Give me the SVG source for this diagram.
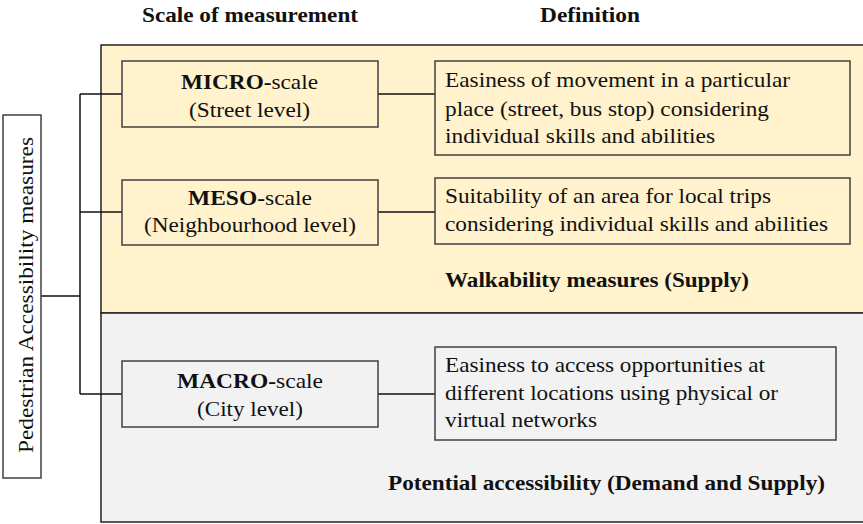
<svg xmlns="http://www.w3.org/2000/svg" width="863" height="524" viewBox="0 0 863 524">
  <style>
    text { font-family: "Liberation Serif", "Times New Roman", serif; fill: #111; font-size: 22px; }
    .b { font-weight: bold; }
    .panel { stroke: #222; stroke-width: 1.5; }
    .box { stroke: #404040; stroke-width: 1.5; }
    .yel { fill: #FFF2CC; }
    .gry { fill: #F2F2F2; }
    .wire { stroke: #111; stroke-width: 1.5; fill: none; }
  </style>

  <!-- column headings -->
  <g id="headings">
    <text class="b" x="142" y="22" textLength="216" lengthAdjust="spacingAndGlyphs">Scale of measurement</text>
    <text class="b" x="540" y="22" textLength="100" lengthAdjust="spacingAndGlyphs">Definition</text>
  </g>

  <!-- background bands -->
  <g id="walkability-panel">
    <rect class="panel yel" x="101" y="45" width="775" height="268"/>
    <text class="b" x="445" y="287" textLength="304" lengthAdjust="spacingAndGlyphs">Walkability measures (Supply)</text>
  </g>
  <g id="accessibility-panel">
    <rect class="panel gry" x="101" y="313" width="775" height="209"/>
    <text class="b" x="388" y="490" textLength="437" lengthAdjust="spacingAndGlyphs">Potential accessibility (Demand and Supply)</text>
  </g>

  <!-- connectors -->
  <g id="connectors">
    <path class="wire" d="M80,94 V394"/>
    <path class="wire" d="M41,296 H80"/>
    <path class="wire" d="M80,94 H122 M80,212 H122 M80,394 H122"/>
    <path class="wire" d="M378,94 H435 M378,212 H435 M378,394 H435"/>
  </g>

  <!-- root -->
  <g id="pedestrian-accessibility">
    <rect class="box" x="3" y="115" width="38" height="363" fill="#fff"/>
    <text x="0" y="0" transform="translate(33,453) rotate(-90)" textLength="316" lengthAdjust="spacingAndGlyphs">Pedestrian Accessibility measures</text>
  </g>

  <!-- scale nodes -->
  <g id="micro">
    <rect class="box yel" x="122" y="61" width="256" height="66"/>
    <text x="181" y="89" textLength="137" lengthAdjust="spacingAndGlyphs"><tspan class="b">MICRO-</tspan>scale</text>
    <text x="189" y="117" textLength="121" lengthAdjust="spacingAndGlyphs">(Street level)</text>
  </g>
  <g id="meso">
    <rect class="box yel" x="122" y="180" width="256" height="65"/>
    <text x="188" y="205" textLength="124" lengthAdjust="spacingAndGlyphs"><tspan class="b">MESO-</tspan>scale</text>
    <text x="144" y="232" textLength="212" lengthAdjust="spacingAndGlyphs">(Neighbourhood level)</text>
  </g>
  <g id="macro">
    <rect class="box gry" x="122" y="361" width="256" height="66"/>
    <text x="177" y="388" textLength="146" lengthAdjust="spacingAndGlyphs"><tspan class="b">MACRO-</tspan>scale</text>
    <text x="197" y="416" textLength="106" lengthAdjust="spacingAndGlyphs">(City level)</text>
  </g>

  <!-- definition nodes -->
  <g id="micro-definition">
    <rect class="box yel" x="435" y="61" width="415" height="94"/>
    <text x="445" y="87" textLength="345" lengthAdjust="spacingAndGlyphs">Easiness of movement in a particular</text>
    <text x="445" y="116" textLength="324" lengthAdjust="spacingAndGlyphs">place (street, bus stop) considering</text>
    <text x="445" y="143" textLength="270" lengthAdjust="spacingAndGlyphs">individual skills and abilities</text>
  </g>
  <g id="meso-definition">
    <rect class="box yel" x="435" y="178" width="415" height="66"/>
    <text x="445" y="203" textLength="326" lengthAdjust="spacingAndGlyphs">Suitability of an area for local trips</text>
    <text x="445" y="231" textLength="383" lengthAdjust="spacingAndGlyphs">considering individual skills and abilities</text>
  </g>
  <g id="macro-definition">
    <rect class="box gry" x="435" y="347" width="401" height="93"/>
    <text x="445" y="372" textLength="320" lengthAdjust="spacingAndGlyphs">Easiness to access opportunities at</text>
    <text x="445" y="400" textLength="333" lengthAdjust="spacingAndGlyphs">different locations using physical or</text>
    <text x="445" y="427" textLength="152" lengthAdjust="spacingAndGlyphs">virtual networks</text>
  </g>
</svg>
